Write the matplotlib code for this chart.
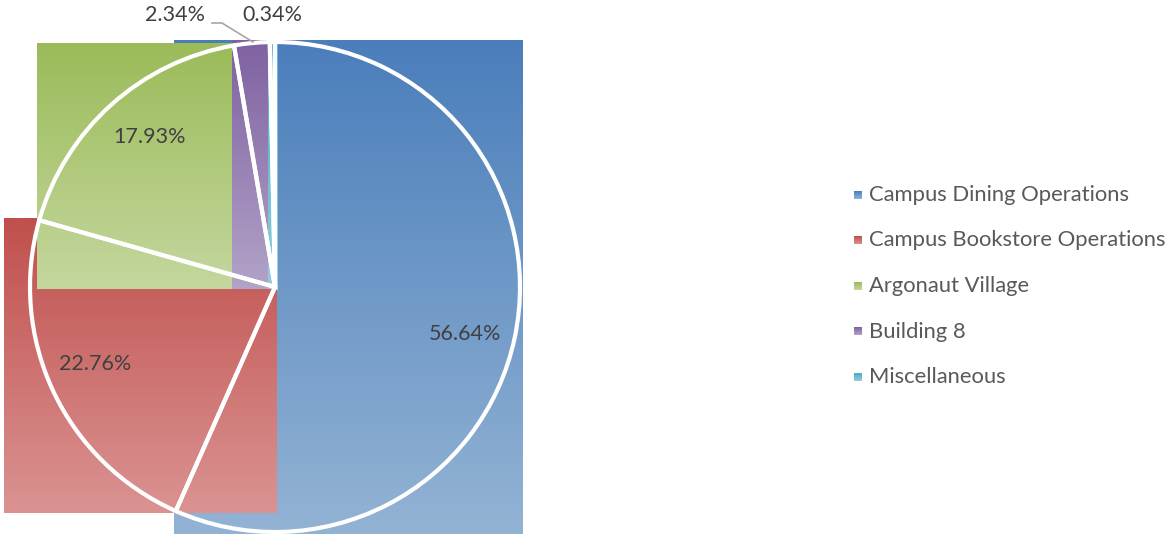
import numpy as np
import matplotlib
matplotlib.use("Agg")
import matplotlib.pyplot as plt
from matplotlib.patches import Wedge
from matplotlib.colors import LinearSegmentedColormap

categories = ["Campus Dining Operations", "Campus Bookstore Operations",
              "Argonaut Village", "Building 8", "Miscellaneous"]
values = [56.64, 22.76, 17.93, 2.34, 0.34]
labels = ["56.64%", "22.76%", "17.93%", "2.34%", "0.34%"]

top_colors = ["#4A7EBB", "#C0504D", "#9BBB59", "#7F61A1", "#4BACC6"]
bot_colors = ["#93B3D4", "#DA9392", "#C4D79E", "#B2A3C8", "#93CDDD"]

W, H = 1168, 535
fig = plt.figure(figsize=(W / 100, H / 100), dpi=100)
ax = fig.add_axes([0, 0, 1, 1])
ax.set_xlim(0, W)
ax.set_ylim(0, H)
ax.axis("off")

cx, cy, R = 275, 248, 245
PAD = 2
total = sum(values)
FONT = "Lato"


def bezier_bbox(t_start, t_end):
    """Bounding box of the wedge's Bezier control points; the arc is split
    into chunks of at most 90 degrees from its start (clockwise)."""
    pts = [(cx, cy)]
    a = t_start
    while a > t_end + 1e-9:
        b = max(a - 90.0, t_end)
        seg = a - b
        a0, a1 = np.radians(a), np.radians(b)
        k = 4.0 / 3.0 * np.tan(np.radians(seg) / 4.0) * R
        p0 = np.array([cx + R * np.cos(a0), cy + R * np.sin(a0)])
        p3 = np.array([cx + R * np.cos(a1), cy + R * np.sin(a1)])
        t0 = np.array([np.sin(a0), -np.cos(a0)])
        t1 = np.array([np.sin(a1), -np.cos(a1)])
        pts += [tuple(p0), tuple(p0 + k * t0), tuple(p3 - k * t1), tuple(p3)]
        a = b
    pts = np.array(pts)
    return (pts[:, 0].min() - PAD, pts[:, 0].max() + PAD,
            pts[:, 1].min() - PAD, pts[:, 1].max() + PAD)


angles = []
start = 90.0
for v in values:
    end = start - 360.0 * v / total
    angles.append((start, end))
    start = end

# gradient-filled bounding boxes
for (s, e), ct, cb in zip(angles, top_colors, bot_colors):
    x0, x1, y0, y1 = bezier_bbox(s, e)
    cmap = LinearSegmentedColormap.from_list("g", [cb, ct])
    grad = np.linspace(0, 1, 256).reshape(-1, 1)
    ax.imshow(grad, cmap=cmap, extent=(x0, x1, y0, y1), origin="lower",
              aspect="auto", interpolation="bilinear", zorder=1)

# white wedge outlines
for (s, e) in angles:
    ax.add_patch(Wedge((cx, cy), R, e, s, fill=False, edgecolor="white",
                       linewidth=3, zorder=3, joinstyle="miter"))

# data labels
lab_col = "#404040"
fs = 15.5
for i, ((s, e), lab) in enumerate(zip(angles, labels)):
    if i < 3:
        mid = np.radians((s + e) / 2 - 2)
        rr = 0.8 * R
        ax.text(cx + rr * np.cos(mid), cy + rr * np.sin(mid), lab,
                ha="center", va="center", fontsize=fs, color=lab_col,
                family=FONT, zorder=5)
ax.text(175, H - 15, labels[3], ha="center", va="center", fontsize=fs,
        color=lab_col, family=FONT, zorder=5)
ax.text(272, H - 15, labels[4], ha="center", va="center", fontsize=fs,
        color=lab_col, family=FONT, zorder=5)
ax.plot([212, 222, 253], [H - 23, H - 23, H - 42], color="#A6A6A6", lw=1.2,
        zorder=4)

# legend
ly0, dy = 195, 45.5
for i, (cat, ct, cb) in enumerate(zip(categories, top_colors, bot_colors)):
    y = H - (ly0 + i * dy)
    cmap = LinearSegmentedColormap.from_list("g", [cb, ct])
    grad = np.linspace(0, 1, 32).reshape(-1, 1)
    ax.imshow(grad, cmap=cmap, extent=(854, 862, y - 4, y + 4), origin="lower",
              aspect="auto", zorder=5)
    ax.text(869, y, cat, ha="left", va="center", fontsize=15.8,
            color="#595959", family=FONT, zorder=5)

fig.savefig("out.png", dpi=100)
